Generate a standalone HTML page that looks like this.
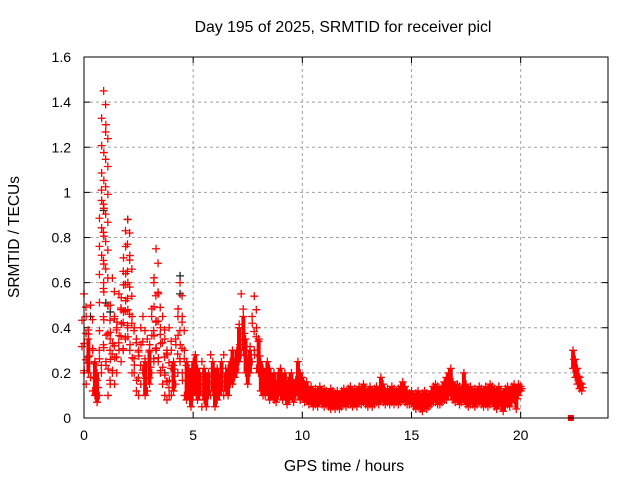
<!DOCTYPE html>
<html><head><meta charset="utf-8"><style>
body{margin:0;background:#fff;}
svg{display:block;font-family:"Liberation Sans",sans-serif;}
</style></head><body>
<svg id="chart" width="640" height="480">
<rect x="0" y="0" width="640" height="480" fill="#fff"/>
<text x="343" y="32" font-size="15.8" text-anchor="middle">Day 195 of 2025, SRMTID for receiver picl</text>
<text x="344" y="471" font-size="15.8" text-anchor="middle">GPS time / hours</text>
<text transform="translate(19,237) rotate(-90)" font-size="15.5" text-anchor="middle">SRMTID / TECUs</text>
<g id="grid"></g><g id="ticks"></g><g id="marks"></g>
<rect x="84" y="57" width="524" height="361" fill="none" stroke="#000" stroke-width="1"/>
</svg>
<script>
const xTicks=[0,5,10,15,20];
const yTicks=[0,0.2,0.4,0.6,0.8,1,1.2,1.4,1.6];
const yTickLabels=["0","0.2","0.4","0.6","0.8","1","1.2","1.4","1.6"];
const times=[0,0.1,0.2,0.3,0.4,0.5,0.6,0.7,0.8,0.9,1,1.1,1.2,1.3,1.4,1.5,1.6,1.7,1.8,1.9,2,2.1,2.2,2.3,2.4,2.5,2.6,2.7,2.8,2.9,3,3.1,3.2,3.3,3.4,3.5,3.6,3.7,3.8,3.9,4,4.1,4.2,4.3,4.4,4.5,4.6,4.7,4.8,4.9,5,5.1,5.2,5.3,5.4,5.5,5.6,5.7,5.8,5.9,6,6.1,6.2,6.3,6.4,6.5,6.6,6.7,6.8,6.9,7,7.1,7.2,7.3,7.4,7.5,7.6,7.7,7.8,7.9,8,8.1,8.2,8.3,8.4,8.5,8.6,8.7,8.8,8.9,9,9.1,9.2,9.3,9.4,9.5,9.6,9.7,9.8,9.9,10,10.1,10.2,10.3,10.4,10.5,10.6,10.7,10.8,10.9,11,11.1,11.2,11.3,11.4,11.5,11.6,11.7,11.8,11.9,12,12.1,12.2,12.3,12.4,12.5,12.6,12.7,12.8,12.9,13,13.1,13.2,13.3,13.4,13.5,13.6,13.7,13.8,13.9,14,14.1,14.2,14.3,14.4,14.5,14.6,14.7,14.8,14.9,15,15.1,15.2,15.3,15.4,15.5,15.6,15.7,15.8,15.9,16,16.1,16.2,16.3,16.4,16.5,16.6,16.7,16.8,16.9,17,17.1,17.2,17.3,17.4,17.5,17.6,17.7,17.8,17.9,18,18.1,18.2,18.3,18.4,18.5,18.6,18.7,18.8,18.9,19,19.1,19.2,19.3,19.4,19.5,19.6,19.7,19.8,19.9,20,22.4,22.5,22.6,22.7,22.8];
const highVals=[.55,.45,.35,.5,.3,.25,.2,.3,1.01,1.45,1.3,.5,.35,.62,.45,.4,.55,.48,.65,.83,.88,.72,.45,.4,.35,.3,.4,.45,.25,.35,.3,.45,.6,.75,.55,.4,.45,.35,.3,.4,.3,.25,.35,.45,.6,.45,.3,.25,.22,.2,.25,.28,.22,.2,.25,.22,.18,.2,.28,.25,.2,.22,.18,.25,.28,.2,.22,.25,.3,.25,.3,.4,.55,.45,.35,.25,.3,.45,.54,.4,.35,.25,.22,.2,.25,.22,.18,.2,.15,.2,.22,.18,.2,.15,.18,.2,.15,.17,.25,.2,.18,.15,.16,.12,.14,.12,.13,.12,.14,.12,.13,.12,.11,.13,.12,.11,.12,.1,.12,.13,.12,.13,.14,.12,.13,.12,.14,.13,.15,.13,.12,.14,.12,.13,.14,.12,.18,.15,.12,.13,.12,.14,.13,.12,.13,.14,.16,.14,.12,.11,.12,.1,.11,.12,.1,.11,.12,.11,.1,.12,.14,.15,.14,.13,.14,.16,.18,.2,.22,.16,.14,.15,.14,.13,.2,.15,.13,.14,.12,.13,.12,.14,.13,.12,.14,.13,.15,.14,.13,.12,.14,.12,.11,.13,.14,.12,.14,.15,.13,.15,.14,.3,.26,.22,.18,.15];
const lowVals=[.2,.15,.2,.18,.12,.1,.07,.1,.2,.6,.25,.1,.15,.2,.15,.2,.3,.25,.3,.35,.4,.3,.2,.2,.12,.1,.15,.2,.1,.12,.15,.2,.25,.3,.25,.2,.15,.1,.08,.1,.1,.12,.15,.2,.25,.2,.1,.08,.1,.05,.1,.12,.08,.1,.05,.08,.05,.1,.1,.12,.05,.08,.1,.12,.1,.12,.1,.15,.15,.18,.2,.25,.28,.3,.2,.15,.2,.25,.3,.22,.2,.12,.1,.1,.12,.08,.1,.08,.07,.1,.1,.08,.1,.06,.08,.1,.07,.1,.1,.08,.1,.07,.08,.06,.07,.05,.06,.05,.07,.06,.05,.06,.05,.04,.05,.04,.05,.04,.05,.06,.05,.06,.06,.05,.06,.05,.07,.06,.07,.06,.05,.06,.05,.06,.07,.06,.08,.07,.06,.07,.06,.07,.06,.07,.06,.07,.08,.07,.06,.06,.07,.05,.04,.05,.04,.03,.05,.04,.05,.06,.07,.07,.06,.06,.07,.08,.08,.1,.1,.08,.07,.08,.06,.07,.08,.06,.05,.06,.06,.05,.06,.07,.06,.05,.06,.05,.06,.07,.05,.04,.06,.05,.03,.05,.06,.05,.07,.08,.04,.1,.12,.22,.18,.15,.13,.12];
const blackT=[0.9,2.0,4.4,1.0,4.4,0.3,1.2,3.7];
const blackV=[0.92,0.88,0.63,0.51,0.55,0.45,0.47,0.2];
const squareT=[22.3];
const squareV=[0];

const X0=84,X1=608,Y0=418,Y1=57;
const xs=t=>X0+t/24*(X1-X0);
const ys=v=>Y0-v/1.6*(Y0-Y1);
const NS="http://www.w3.org/2000/svg";
function mk(tag,attrs,parent){const e=document.createElementNS(NS,tag);for(const k in attrs)e.setAttribute(k,attrs[k]);parent.appendChild(e);return e;}
const grid=document.getElementById('grid'),ticks=document.getElementById('ticks'),marks=document.getElementById('marks');
xTicks.forEach(t=>{const x=xs(t);
 if(t>0){const g=mk('line',{x1:x,x2:x,y1:Y1,y2:Y0,stroke:'#a0a0a0','stroke-dasharray':'3,3'},grid);
 
 }
 mk('line',{x1:x,x2:x,y1:Y0,y2:Y0-6,stroke:'#000'},ticks);mk('line',{x1:x,x2:x,y1:Y1,y2:Y1+6,stroke:'#000'},ticks);
 const l=mk('text',{x:x,y:Y0+22,'font-size':14,'text-anchor':'middle'},ticks);l.textContent=t;
 
 });
yTicks.forEach((v,i)=>{const y=ys(v);
 if(v>0&&v<1.6){const g=mk('line',{x1:X0,x2:X1,y1:y,y2:y,stroke:'#a0a0a0','stroke-dasharray':'3,3'},grid);
 
 }
 mk('line',{x1:X0,x2:X0+6,y1:y,y2:y,stroke:'#000'},ticks);mk('line',{x1:X1,x2:X1-6,y1:y,y2:y,stroke:'#000'},ticks);
 const l=mk('text',{x:X0-13,y:y+5,'font-size':14,'text-anchor':'end'},ticks);l.textContent=yTickLabels[i];
 
 });
function cross(x,y,c){mk('path',{d:`M${x-4} ${y}H${x+4}M${x} ${y-4}V${y+4}`,stroke:c,'stroke-width':1.3,fill:'none'},marks);}
blackT.forEach((t,i)=>cross(xs(t),ys(blackV[i]),'#222'));
times.forEach((t,i)=>{const x=xs(t),yh=ys(highVals[i]),yl=ys(lowVals[i]);
 const span=yl-yh;
 if(span<40){
  const b=mk('line',{x1:x,x2:x,y1:yh,y2:yl,stroke:'#f00','stroke-width':4},marks);
  
  
  cross(x+1,(yh+yl)/2,'#f00');
 } else {
  const n=Math.round(span/14);
  for(let k=1;k<n;k++){cross(x+((k%2)?2:-2),yh+span*k/n,'#f00');}
 }
 cross(x,yh,'#f00');cross(x,yl,'#f00');});
squareT.forEach((t,i)=>{const s=mk('rect',{x:xs(t)-3,y:ys(squareV[i])-3,width:6,height:6,fill:'#f00'},marks);
 
 });
</script>
</body></html>
